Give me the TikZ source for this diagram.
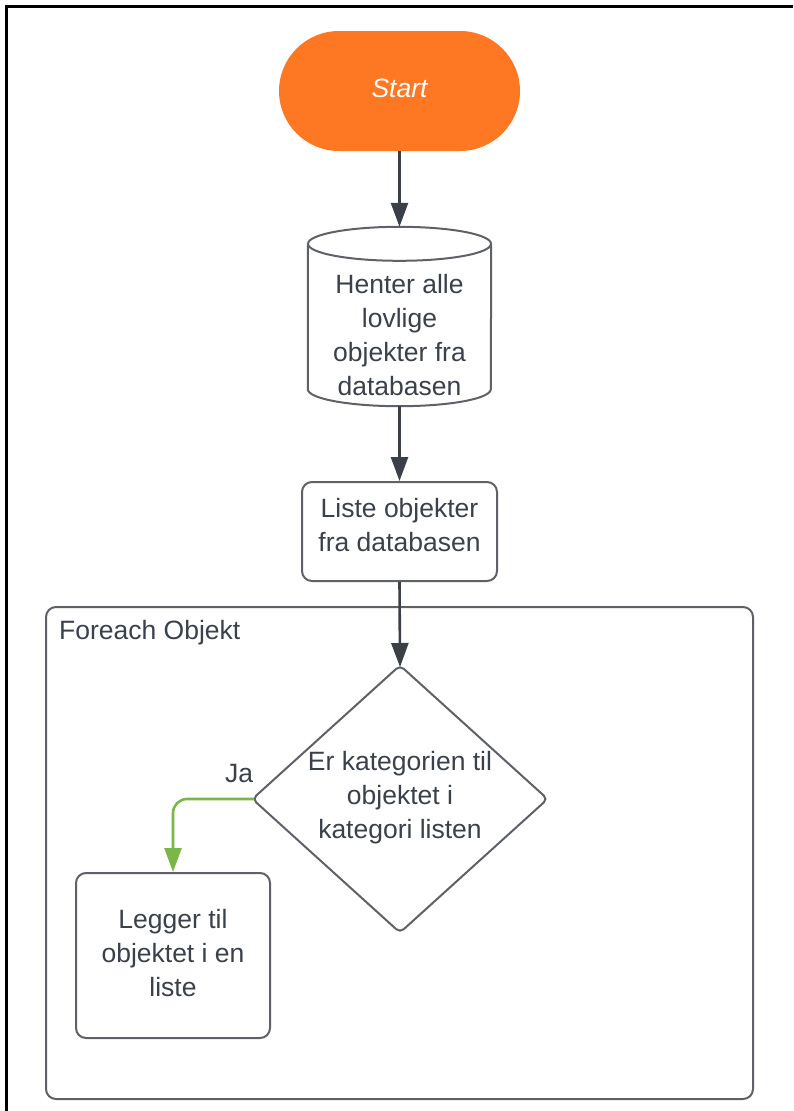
\documentclass[tikz,border=0pt]{standalone}
\usepackage{fontspec}
\setmainfont{Liberation Sans}
\usetikzlibrary{shapes.geometric,shapes.misc,arrows.meta,calc}
\definecolor{startorange}{HTML}{FE7722}
\definecolor{edgegray}{HTML}{5E6167}
\definecolor{flowdark}{HTML}{3A4048}
\definecolor{txtdark}{HTML}{3A414A}
\definecolor{yesgreen}{HTML}{7AB648}
\tikzset{
  lbl/.style={font=\fontsize{26.5}{34}\selectfont, text=txtdark, align=center, inner sep=0pt},
  procbox/.style={draw=edgegray, line width=2pt, rounded corners=10pt, rectangle, inner sep=0pt},
  flow/.style={draw=flowdark, line width=2.6pt, -{Triangle[length=24pt,width=17pt]}},
  yesflow/.style={draw=yesgreen, line width=2.6pt, rounded corners=14pt, -{Triangle[length=24pt,width=17pt]}},
}
\begin{document}
\begin{tikzpicture}[x=1pt,y=-1pt]
\useasboundingbox (0,0) rectangle (793,1111);
% outer frame (left and top edges)
\draw[black, line width=2.2pt] (6.5,1111) -- (6.5,6.5) -- (793,6.5);

% loop container
\node[procbox, minimum width=707pt, minimum height=492pt] (loop) at (399.5,853) {};
\node[lbl, anchor=west] (looplbl) at (59,633) {Foreach Objekt};

% start terminal
\node[rounded rectangle, fill=startorange, minimum width=241pt, minimum height=120pt, inner sep=0pt] (start) at (399.5,91) {};
\node[lbl, text=white, font=\fontsize{26.5}{34}\selectfont\itshape] (starttxt) at (399.5,88) {Start};

% database cylinder
\node[rectangle, minimum width=183pt, minimum height=179pt, inner sep=0pt] (cyl) at (399.5,316.5) {};
\draw[edgegray, line width=2pt]
  ($(cyl.north west)+(0,17)$) -- ($(cyl.south west)+(0,-17)$)
  arc[start angle=180, end angle=360, x radius=91.5pt, y radius=17pt]
  -- ($(cyl.north east)+(0,17)$);
\draw[edgegray, line width=2pt] ($(cyl.north)+(0,17)$) ellipse[x radius=91.5pt, y radius=17pt];
\node[lbl] (cyltxt) at (399.5,335) {Henter alle\\lovlige\\objekter fra\\databasen};

% list box
\node[procbox, minimum width=195pt, minimum height=99pt] (liste) at (399.5,531.5) {};
\node[lbl] (listetxt) at (399.5,525) {Liste objekter\\fra databasen};

% decision
\node[diamond, draw=edgegray, line width=2pt, rounded corners=5pt, minimum width=296pt, minimum height=268pt, inner sep=0pt] (dia) at (400,799) {};
\node[lbl] (diatxt) at (400,798) {Er kategorien til\\objektet i\\kategori listen};

% add-to-list box
\node[procbox, minimum width=194pt, minimum height=165pt] (legg) at (173,955.5) {};
\node[lbl] (leggtxt) at (173,953) {Legger til\\objektet i en\\liste};

% connectors
\draw[flow] (start.south) -- (cyl.north);
\draw[flow] (cyl.south) -- (liste.north);
\draw[flow, shorten >=-3pt] (liste.south) -- (dia.north);
\draw[yesflow, shorten <=-3pt] (dia.west) -| (legg.north);
\node[lbl] (ja) at (239,774) {Ja};
\end{tikzpicture}
\end{document}
